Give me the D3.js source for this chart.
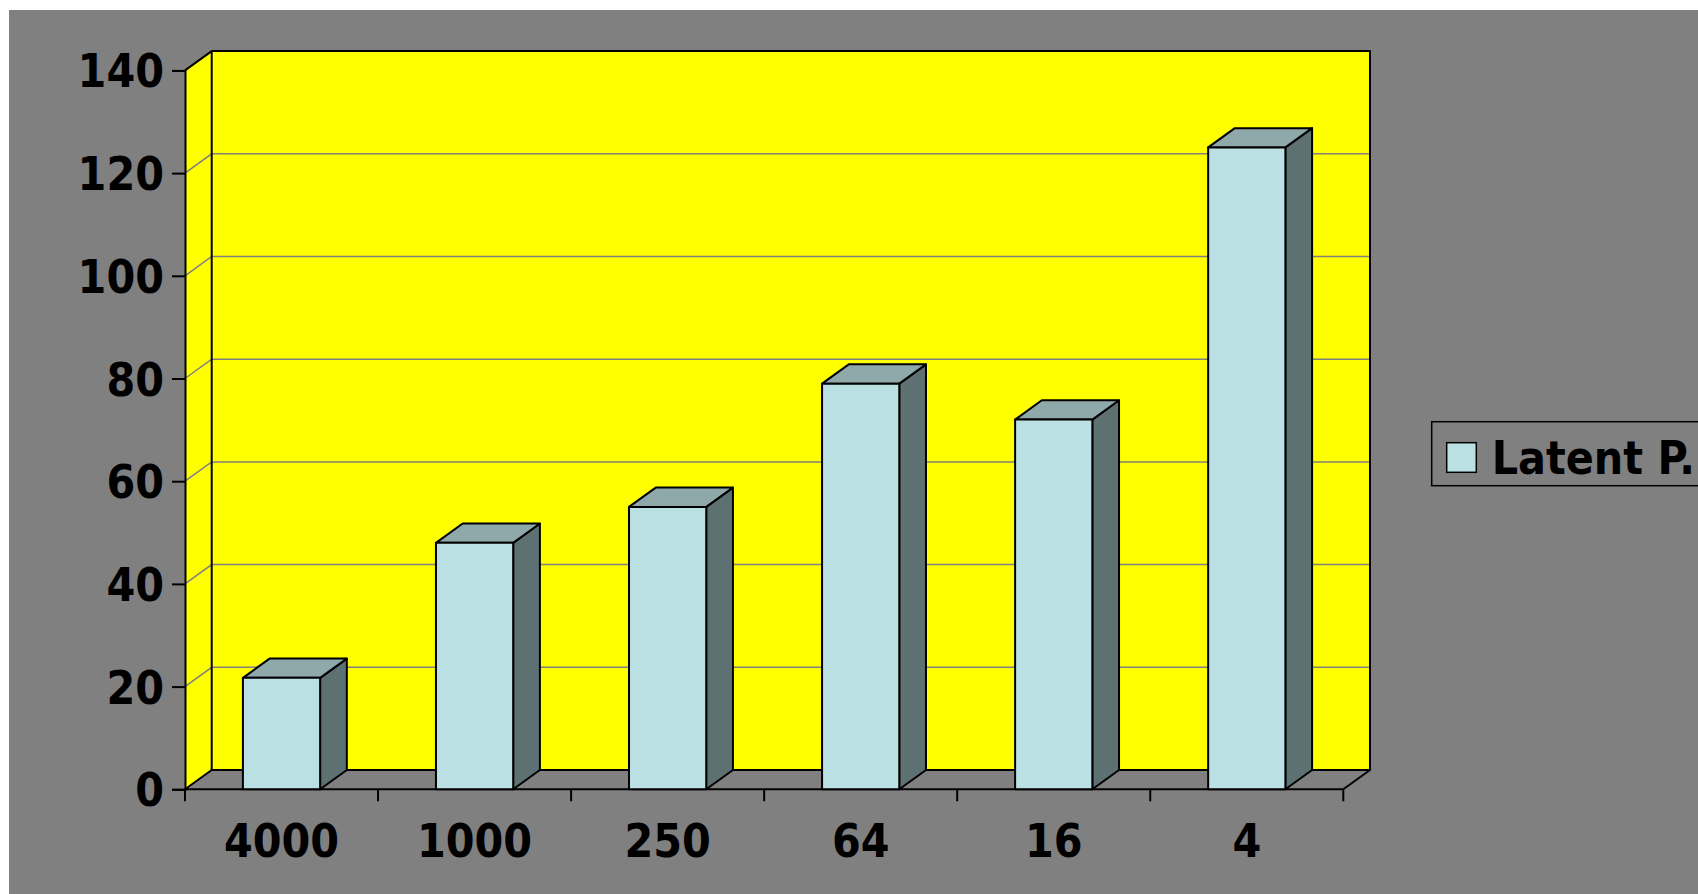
<!DOCTYPE html>
<html>
<head>
<meta charset="utf-8">
<script src="https://cdn.jsdelivr.net/npm/d3@7"></script>
<style>
  html, body { margin: 0; padding: 0; background: #ffffff; }
  svg { display: block; }
  text { font-family: "DejaVu Sans Condensed", "DejaVu Sans", sans-serif; font-stretch: condensed; font-weight: bold; fill: #000; }
</style>
</head>
<body>
<script>
// Series data
const categories = ["4000", "1000", "250", "64", "16", "4"];
const latentValues = [21.7, 48, 55, 79, 72, 125];
const seriesName = "Latent P.";
const yTicks = [0, 20, 40, 60, 80, 100, 120, 140];

const W = 1698, H = 894;
const depthX = 26.7, depthY = 19.3;   // 3D depth offset of the plot box
const plot = { left: 185, right: 1343.3, top: 70.4, bottom: 789.3 };
const fontSize = 46;

const colors = {
  bg: "#808080", wall: "#ffff00", grid: "#808080",
  front: "#bbe0e3", top: "#8fa9ab", side: "#5e7172"
};

const svg = d3.select("body").append("svg").attr("width", W).attr("height", H);

// chart area background
svg.append("rect").attr("x", 9).attr("y", 10).attr("width", W - 9).attr("height", H - 10)
  .attr("fill", colors.bg);

const x = d3.scaleBand().domain(categories).range([plot.left, plot.right])
  .paddingInner(0.6).paddingOuter(0.3);
const y = d3.scaleLinear().domain([0, 140]).range([plot.bottom, plot.top]);

const line = d3.line();
const pt = (px, py, back) => back ? [px + depthX, py - depthY] : [px, py];

// side wall (left)
svg.append("path")
  .attr("d", line([pt(plot.left, y(0)), pt(plot.left, y(140)), pt(plot.left, y(140), 1), pt(plot.left, y(0), 1)]) + "Z")
  .attr("fill", colors.wall).attr("stroke", "none");

// back wall
svg.append("rect")
  .attr("x", plot.left + depthX).attr("y", y(140) - depthY)
  .attr("width", plot.right - plot.left).attr("height", y(0) - y(140))
  .attr("fill", colors.wall);

// gridlines on side and back walls
const gridVals = yTicks.filter(v => v > 0 && v < 140);
const grid = svg.append("g").attr("stroke", colors.grid).attr("stroke-width", 1.5).attr("fill", "none");
gridVals.forEach(v => {
  grid.append("path").attr("d", line([pt(plot.left, y(v)), pt(plot.left, y(v), 1), pt(plot.right, y(v), 1)]));
});

// floor
svg.append("path")
  .attr("d", line([pt(plot.left, y(0)), pt(plot.right, y(0)), pt(plot.right, y(0), 1), pt(plot.left, y(0), 1)]) + "Z")
  .attr("fill", colors.bg).attr("stroke", "#000").attr("stroke-width", 2).attr("stroke-linejoin", "round");

// wall outlines
const edges = svg.append("g").attr("stroke", "#000").attr("stroke-width", 2).attr("fill", "none")
  .attr("stroke-linejoin", "round");
edges.append("path").attr("d", line([pt(plot.left, y(140)), pt(plot.left, y(140), 1), pt(plot.right, y(140), 1), pt(plot.right, y(0), 1)]));
edges.append("path").attr("d", line([pt(plot.left, y(140), 1), pt(plot.left, y(0), 1)]));

// 3D bars
const bw = x.bandwidth();
const bars = svg.append("g").attr("stroke", "#000").attr("stroke-width", 2).attr("stroke-linejoin", "round");
categories.forEach((c, i) => {
  const x0 = x(c), x1 = x0 + bw, yt = y(latentValues[i]), yb = y(0);
  bars.append("path").attr("fill", colors.side)
    .attr("d", line([pt(x1, yb), pt(x1, yt), pt(x1, yt, 1), pt(x1, yb, 1)]) + "Z");
  bars.append("path").attr("fill", colors.top)
    .attr("d", line([pt(x0, yt), pt(x1, yt), pt(x1, yt, 1), pt(x0, yt, 1)]) + "Z");
  bars.append("rect").attr("fill", colors.front)
    .attr("x", x0).attr("y", yt).attr("width", bw).attr("height", yb - yt);
});

// value axis (front left edge)
const yAxis = svg.append("g").attr("transform", `translate(${plot.left},0)`)
  .call(d3.axisLeft(y).tickValues(yTicks).tickSize(13).tickPadding(8).tickFormat(d3.format("d")));
yAxis.select(".domain").attr("stroke", "#000").attr("stroke-width", 2);
yAxis.selectAll(".tick line").attr("stroke", "#000").attr("stroke-width", 2);
yAxis.selectAll(".tick text").attr("font-size", fontSize).attr("dy", "0.36em")
  .style("font-family", '"DejaVu Sans Condensed", "DejaVu Sans", sans-serif').attr("font-weight", "bold").attr("fill", "#000");

// category axis ticks at band boundaries
const step = x.step();
const boundaries = categories.map(c => x(c) - (step - bw) / 2).concat([plot.right]);
const xt = svg.append("g").attr("stroke", "#000").attr("stroke-width", 2);
boundaries.forEach(b => {
  xt.append("line").attr("x1", b).attr("x2", b).attr("y1", y(0)).attr("y2", y(0) + 12);
});
svg.append("g").selectAll("text").data(categories).join("text")
  .attr("x", d => x(d) + bw / 2).attr("y", 857)
  .attr("text-anchor", "middle").attr("font-size", fontSize)
  .text(d => d);

// legend
const lg = svg.append("g");
lg.append("rect").attr("x", 1431.7).attr("y", 421.7).attr("width", 300).attr("height", 64)
  .attr("fill", colors.bg).attr("stroke", "#000").attr("stroke-width", 1.5);
lg.append("rect").attr("x", 1446.7).attr("y", 442.7).attr("width", 29.6).attr("height", 29.6)
  .attr("fill", colors.front).attr("stroke", "#000").attr("stroke-width", 1.5);
lg.append("text").attr("x", 1491.7).attr("y", 474).attr("font-size", fontSize).text(seriesName);
</script>
</body>
</html>
